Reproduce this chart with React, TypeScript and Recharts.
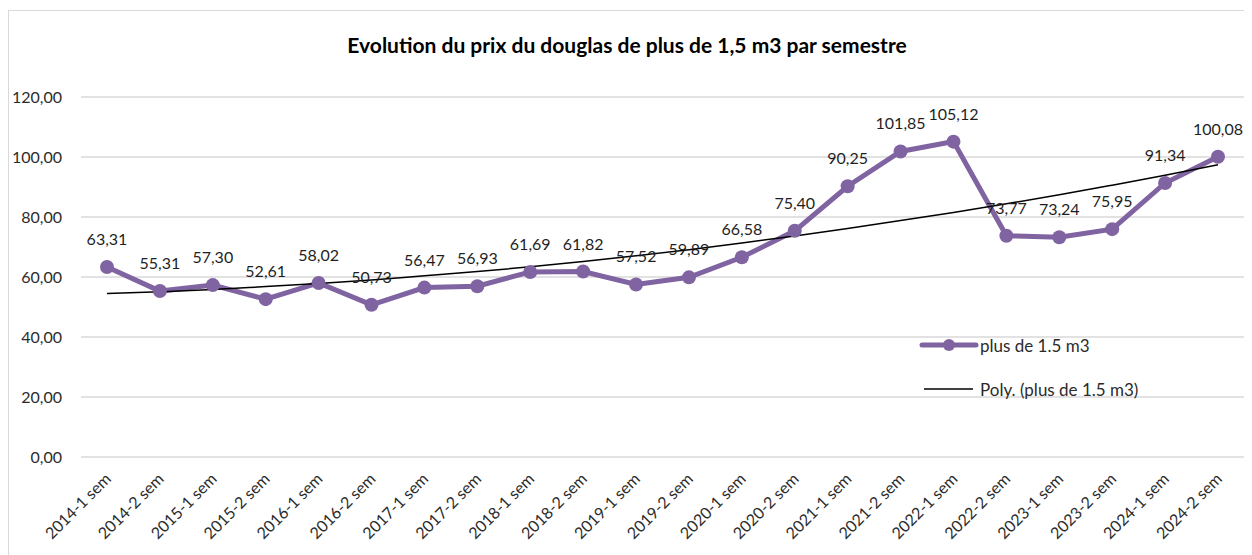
import { CartesianGrid, LabelList, Line, LineChart, XAxis, YAxis } from "recharts";

const SEMESTERS = [
  "2014-1 sem", "2014-2 sem", "2015-1 sem", "2015-2 sem", "2016-1 sem", "2016-2 sem",
  "2017-1 sem", "2017-2 sem", "2018-1 sem", "2018-2 sem", "2019-1 sem", "2019-2 sem",
  "2020-1 sem", "2020-2 sem", "2021-1 sem", "2021-2 sem", "2022-1 sem", "2022-2 sem",
  "2023-1 sem", "2023-2 sem", "2024-1 sem", "2024-2 sem",
];

const PRICES = [
  63.31, 55.31, 57.3, 52.61, 58.02, 50.73, 56.47, 56.93, 61.69, 61.82, 57.52, 59.89,
  66.58, 75.4, 90.25, 101.85, 105.12, 73.77, 73.24, 75.95, 91.34, 100.08,
];

// polynomial trend
const TREND = [
  54.5, 55.1, 55.8, 56.8, 57.8, 59.0, 60.4, 61.8, 63.4, 65.2, 67.1, 69.1,
  71.3, 73.7, 76.2, 78.8, 81.5, 84.4, 87.4, 90.6, 93.9, 97.4,
];

const Y_TICKS = [0, 20, 40, 60, 80, 100, 120];

const PURPLE = "#8064A2";
const FONT = "Lato, 'Open Sans', sans-serif";

const data = SEMESTERS.map((name, i) => ({ name, price: PRICES[i], trend: TREND[i] }));

const fr = (v: number) => v.toFixed(2).replace(".", ",");

function XTick({ x, y, payload }: any) {
  return (
    <g transform={`translate(${x},${y})`}>
      <text
        x={5}
        y={23}
        textAnchor="end"
        transform="rotate(-45 5 23)"
        fontSize={16}
        fontFamily={FONT}
        fill="#2b2b2b"
      >
        {payload.value}
      </text>
    </g>
  );
}

function LegendBox() {
  return (
    <div
      style={{
        position: "absolute",
        left: 910,
        top: 324,
        fontFamily: FONT,
        fontSize: 17,
        color: "#2b2b2b",
      }}
    >
      <div style={{ display: "flex", alignItems: "center", height: 20 }}>
        <svg width={60} height={16}>
          <line x1={3} x2={57} y1={8} y2={8} stroke={PURPLE} strokeWidth={5} strokeLinecap="round" />
          <circle cx={30} cy={8} r={6} fill={PURPLE} />
        </svg>
        <span style={{ marginLeft: 1 }}>plus de 1.5 m3</span>
      </div>
      <div style={{ display: "flex", alignItems: "center", height: 20, marginTop: 24 }}>
        <svg width={60} height={16}>
          <line x1={5} x2={54} y1={8} y2={8} stroke="#000" strokeWidth={1.5} />
        </svg>
        <span style={{ marginLeft: 1 }}>Poly. (plus de 1.5 m3)</span>
      </div>
    </div>
  );
}

export default function App() {
  return (
    <div
      style={{
        position: "relative",
        width: 1236,
        height: 560,
        marginTop: 2,
        border: "1px solid #d9d9d9",
        background: "#fff",
      }}
    >
      <div
        style={{
          position: "absolute",
          top: 23,
          left: 0,
          width: 1236,
          textAlign: "center",
          fontFamily: FONT,
          fontWeight: 700,
          fontSize: 21,
          lineHeight: "22px",
          color: "#000",
          zIndex: 2,
        }}
      >
        Evolution du prix du douglas de plus de 1,5 m3 par semestre
      </div>
      <LineChart width={1236} height={560} data={data} margin={{ top: 86, right: 1, bottom: 0, left: 0 }}>
        <CartesianGrid vertical={false} stroke="#d9d9d9" strokeWidth={1.5} />
        <XAxis
          dataKey="name"
          axisLine={false}
          tickLine={false}
          tickSize={0}
          tickMargin={0}
          height={114}
          interval={0}
          padding={{ left: 26, right: 26 }}
          tick={<XTick />}
        />
        <YAxis
          domain={[0, 120]}
          ticks={Y_TICKS}
          axisLine={false}
          tickLine={false}
          tickSize={0}
          tickMargin={19}
          width={72}
          tickFormatter={fr}
          tick={{ fontSize: 16, fontFamily: FONT, fill: "#2b2b2b" }}
        />
        <Line
          dataKey="price"
          stroke={PURPLE}
          strokeWidth={5}
          dot={{ r: 7, fill: PURPLE, stroke: PURPLE, strokeWidth: 0 }}
          activeDot={false}
          isAnimationActive={false}
        >
          <LabelList
            dataKey="price"
            position="top"
            offset={22}
            formatter={(v: any) => fr(Number(v))}
            style={{ fontSize: 16, fontFamily: FONT, fill: "#1f1f1f" }}
          />
        </Line>
        <Line
          dataKey="trend"
          type="monotone"
          stroke="#000"
          strokeWidth={1.5}
          dot={false}
          activeDot={false}
          isAnimationActive={false}
        />
      </LineChart>
      <LegendBox />
    </div>
  );
}
